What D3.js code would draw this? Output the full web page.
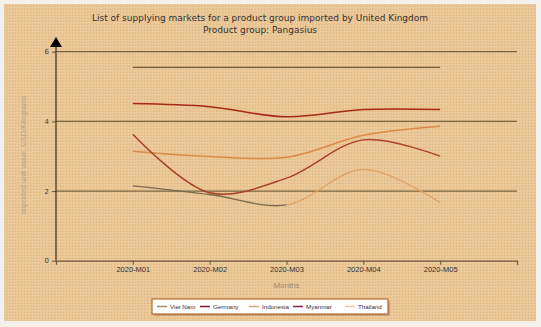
<!DOCTYPE html>
<html lang="en">
<head>
<meta charset="UTF-8">
<title>Pangasius</title>
<script src="https://d3js.org/d3.v7.min.js"></script>
<style>
  body { margin: 0; background: #fff; }
  text { font-family: Verdana, "DejaVu Sans", sans-serif; }
</style>
</head>
<body>
<div id="chart"></div>
<script>
var months = ["2020-M01", "2020-M02", "2020-M03", "2020-M04", "2020-M05"];
var seriesNames = ["Viet Nam", "Germany", "Indonesia", "Myanmar", "Thailand"];
var vietNam   = [5.55, 5.55, 5.55, 5.55, 5.55];
var germany   = [4.51, 4.42, 4.13, 4.34, 4.34];
var indonesia = [3.14, 2.99, 2.97, 3.60, 3.86];
var myanmar   = [3.63, 1.95, 2.37, 3.47, 3.00];
var thailand  = [2.15, 1.90, 1.60, 2.62, 1.67];
var yTicks = [0, 2, 4, 6];

var W = 541, H = 327;
var svg = d3.select("#chart").append("svg")
    .attr("width", W).attr("height", H);

// textured background
var defs = svg.append("defs");
var pat = defs.append("pattern").attr("id", "tex")
    .attr("width", 3).attr("height", 3).attr("patternUnits", "userSpaceOnUse");
pat.append("rect").attr("width", 3).attr("height", 3).attr("fill", "#eac595");
pat.append("rect").attr("x", 0).attr("y", 0).attr("width", 1).attr("height", 1).attr("fill", "#ddb682");
pat.append("rect").attr("x", 2).attr("y", 1).attr("width", 1).attr("height", 1).attr("fill", "#f1d2a4");

svg.append("rect").attr("x", 0).attr("y", 0).attr("width", W).attr("height", H).attr("fill", "#f4f1ec");
svg.append("rect").attr("x", 4).attr("y", 4).attr("width", W - 9).attr("height", H - 10)
    .attr("fill", "url(#tex)");

// title
var title = svg.append("text").attr("text-anchor", "middle").attr("fill", "#333")
    .style("font-size", "9px");
title.append("tspan").attr("x", 260).attr("y", 21)
    .text("List of supplying markets for a product group imported by United Kingdom");
title.append("tspan").attr("x", 260).attr("y", 33).text("Product group: Pangasius");

// scales
var x = d3.scaleLinear().domain([0, 6]).range([56, 517]);
var y = d3.scaleLinear().domain([0, 6]).range([260.7, 51.7]);

// grid lines
svg.append("g").selectAll("line").data(yTicks.filter(function(d) { return d > 0; }))
    .enter().append("line")
    .attr("x1", x(0)).attr("x2", x(6))
    .attr("y1", function(d) { return y(d); }).attr("y2", function(d) { return y(d); })
    .attr("stroke", "#7a6440").attr("stroke-width", 1.2);

// x axis
var xAxis = svg.append("g").attr("transform", "translate(0," + y(0) + ")")
    .call(d3.axisBottom(x).tickValues([1, 2, 3, 4, 5, 6]).tickSize(4)
        .tickFormat(function(d) { return months[d - 1] || ""; }));
xAxis.select(".domain").attr("stroke", "#6b5638").attr("stroke-width", 1.2);
xAxis.selectAll(".tick line").attr("stroke", "#6b5638");
xAxis.selectAll(".tick text").attr("fill", "#333").style("font-size", "7.5px")
    .attr("dy", "0.6em").style("font-family", "Arial, 'Liberation Sans', sans-serif");

// y axis
var yAxis = svg.append("g").attr("transform", "translate(" + x(0) + ",0)")
    .call(d3.axisLeft(y).tickValues(yTicks).tickSize(4).tickFormat(d3.format("d")));
yAxis.select(".domain").remove();
yAxis.selectAll(".tick line").attr("stroke", "#6b5638");
yAxis.selectAll(".tick text").attr("fill", "#444").style("font-size", "7px");
svg.append("line").attr("x1", x(0)).attr("x2", x(0)).attr("y1", y(0)).attr("y2", 42)
    .attr("stroke", "#3a2e1e").attr("stroke-width", 1.2);
svg.append("path").attr("d", "M" + (x(0) - 6) + ",47 L" + x(0) + ",37 L" + (x(0) + 6) + ",47 Z")
    .attr("fill", "#000");

// axis titles
svg.append("text").attr("transform", "translate(26," + 155 + ") rotate(-90)")
    .attr("text-anchor", "middle").attr("fill", "#b8a48c").style("font-size", "7.5px")
    .style("font-family", "Arial, 'Liberation Sans', sans-serif")
    .text("Imported unit value, USD/Kilograms");
svg.append("text").attr("x", x(3)).attr("y", 288).attr("text-anchor", "middle")
    .attr("fill", "#a08a70").style("font-size", "8px")
    .style("font-family", "Arial, 'Liberation Sans', sans-serif").text("Months");

// lines
var line = d3.line()
    .x(function(d, i) { return x(i + 1); })
    .y(function(d) { return y(d); })
    .curve(d3.curveCatmullRom.alpha(0.5));

defs.append("clipPath").attr("id", "leftPart").append("rect")
    .attr("x", 0).attr("y", 0).attr("width", x(3)).attr("height", H);
defs.append("clipPath").attr("id", "rightPart").append("rect")
    .attr("x", x(3)).attr("y", 0).attr("width", W).attr("height", H);

svg.append("path").datum(vietNam).attr("d", line).attr("fill", "none")
    .attr("stroke", "#6e5a3c").attr("stroke-width", 1.3);
svg.append("path").datum(thailand).attr("d", line).attr("fill", "none")
    .attr("clip-path", "url(#leftPart)").attr("stroke", "#7a6a50").attr("stroke-width", 1.3);
svg.append("path").datum(thailand).attr("d", line).attr("fill", "none")
    .attr("clip-path", "url(#rightPart)").attr("stroke", "#e0a465").attr("stroke-width", 1.3);
svg.append("path").datum(indonesia).attr("d", line).attr("fill", "none")
    .attr("stroke", "#d98b45").attr("stroke-width", 1.5);
svg.append("path").datum(myanmar).attr("d", line).attr("fill", "none")
    .attr("stroke", "#a8402a").attr("stroke-width", 1.4);
svg.append("path").datum(germany).attr("d", line).attr("fill", "none")
    .attr("stroke", "#a52a18").attr("stroke-width", 1.5);

// legend
var legendColors = ["#b08860", "#7a1a28", "#cfa97a", "#80284a", "#f0c89c"];
var lg = svg.append("g").attr("transform", "translate(152,299)");
lg.append("rect").attr("x", 2).attr("y", 2).attr("width", 236).attr("height", 15).attr("fill", "#a08060").attr("opacity", 0.5);
lg.append("rect").attr("width", 236).attr("height", 15).attr("fill", "#fff")
    .attr("stroke", "#b8682a").attr("stroke-width", 1.2);
var itemX = [5, 48, 97, 141, 193];
var item = lg.selectAll(".item").data(seriesNames).enter().append("g")
    .attr("transform", function(d, i) { return "translate(" + itemX[i] + ",0)"; });
item.append("line").attr("x1", 0).attr("x2", 10).attr("y1", 7.5).attr("y2", 7.5)
    .attr("stroke", function(d, i) { return legendColors[i]; }).attr("stroke-width", 1.5);
item.append("text").attr("x", 13).attr("y", 10).attr("fill", "#333")
    .style("font-size", "6.2px").style("font-family", "Arial, 'Liberation Sans', sans-serif")
    .text(function(d) { return d; });
</script>
</body>
</html>
